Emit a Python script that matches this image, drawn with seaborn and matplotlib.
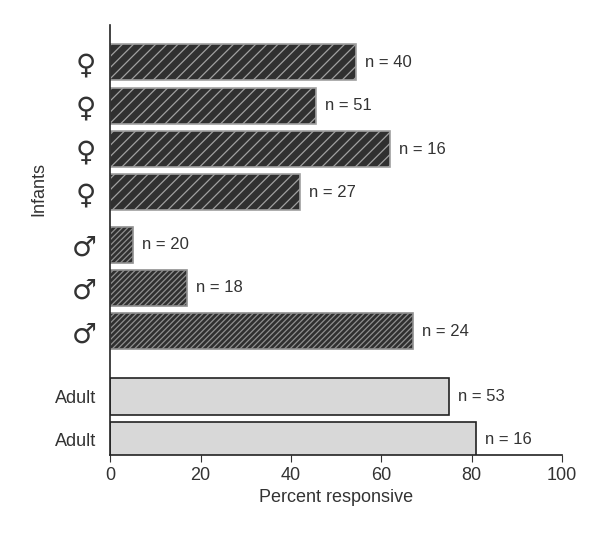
import numpy as np
import pandas as pd
import seaborn as sns
import matplotlib.pyplot as plt

labels = ["♀", "♀", "♀", "♀", "♂", "♂", "♂", "Adult", "Adult"]
groups = ["female"] * 4 + ["male"] * 3 + ["adult"] * 2
percent = [54.5, 45.5, 62, 42, 5, 17, 67, 75, 81]
counts = [40, 51, 16, 27, 20, 18, 24, 53, 16]
ypos = [0, 1, 2, 3, 4.2, 5.2, 6.2, 7.7, 8.7]

df = pd.DataFrame({"y": ypos, "pct": percent})

sns.set_style("white")
plt.rcParams["font.family"] = ["Liberation Sans", "DejaVu Sans"]
plt.rcParams["hatch.linewidth"] = 0.9
fig = plt.figure(figsize=(5.99, 5.49), dpi=100)
ax = fig.add_axes([0.184, 0.171, 0.754, 0.783])
sns.barplot(data=df, x="pct", y="y", orient="h", native_scale=True,
            width=0.83, color="#3a3a3a", ax=ax)

for p, g in zip(ax.patches, groups):
    p.set_linewidth(1.2)
    if g == "female":
        p.set_facecolor("#303030")
        p.set_edgecolor("#a0a0a0")
        p.set_hatch("///")
    elif g == "male":
        p.set_facecolor("#303030")
        p.set_edgecolor("#909090")
        p.set_hatch("//////")
    else:
        p.set_facecolor("#d8d8d8")
        p.set_edgecolor("#222222")

for y, v, n in zip(ypos, percent, counts):
    ax.text(v + 2, y, f"n = {n}", va="center", ha="left", fontsize=12, color="#333333")

ax.set_ylim(9.05, -0.85)
ax.set_xlim(0, 100)
ax.set_xticks([0, 20, 40, 60, 80, 100])
ax.set_yticks(ypos)
ax.set_yticklabels(labels)
for t, g in zip(ax.get_yticklabels(), groups):
    t.set_fontsize(20 if g != "adult" else 13)
    t.set_color("#333333")
    if g != "adult":
        t.set_family("DejaVu Sans")
ax.tick_params(axis="x", labelsize=13, colors="#333333", length=5, direction="out", bottom=True)
ax.tick_params(axis="y", length=0, pad=10)
ax.set_xlabel("Percent responsive", fontsize=13, color="#333333")
ax.set_ylabel("")
fig.text(0.065, 0.655, "Infants", rotation=90, va="center", ha="center", fontsize=13, color="#333333")
sns.despine(ax=ax)
for s in ["left", "bottom"]:
    ax.spines[s].set_color("#222222")
    ax.spines[s].set_linewidth(1.2)

fig.savefig("out.png", dpi=100)
